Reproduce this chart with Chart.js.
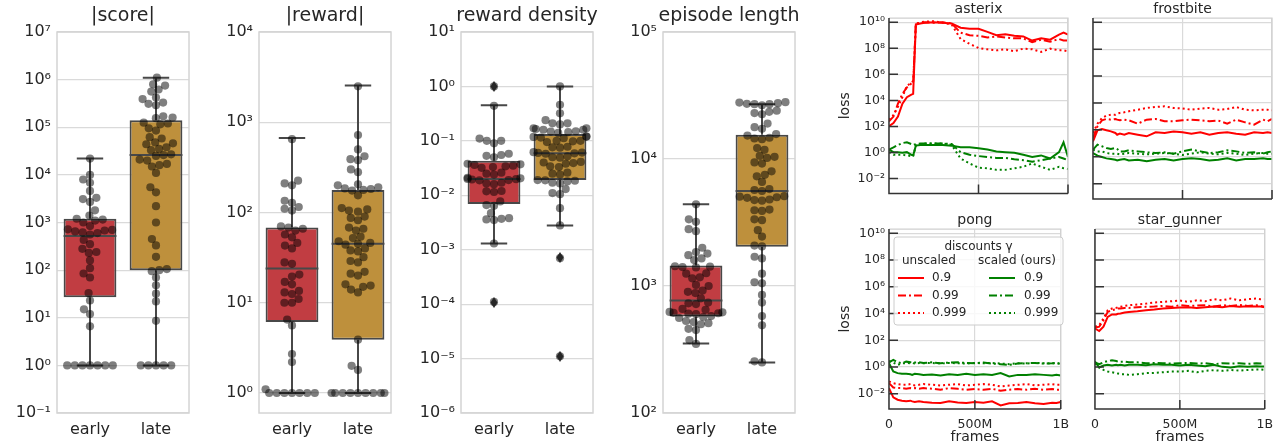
<!DOCTYPE html>
<html>
<head>
<meta charset="utf-8">
<script src="https://cdn.jsdelivr.net/npm/chart.js@4/dist/chart.umd.min.js"></script>
<style>
  body { margin: 0; background: #fff; width: 1281px; height: 444px; position: relative; overflow: hidden; }
  canvas { position: absolute; }
</style>
</head>
<body>
<canvas id="cScore" width="196" height="444" style="left:0;top:0"></canvas>
<canvas id="cReward" width="198" height="444" style="left:200px;top:0"></canvas>
<canvas id="cDensity" width="200" height="444" style="left:400px;top:0"></canvas>
<canvas id="cLength" width="210" height="444" style="left:600px;top:0"></canvas>
<canvas id="cAsterix" width="247" height="205" style="left:830px;top:0"></canvas>
<canvas id="cFrostbite" width="198" height="205" style="left:1083px;top:0"></canvas>
<canvas id="cPong" width="247" height="233" style="left:830px;top:211px"></canvas>
<canvas id="cStarGunner" width="198" height="233" style="left:1083px;top:211px"></canvas>
<script>
// ---------- box plot data (left four panels) ----------
const groups = ['early', 'late'];

const scoreEarly = [1,1,1,1,1,1,1,6.6,12,15,23,33,70,85,110,160,230,240,280,350,430,560,600,620,650,680,700,720,840,1000,1100,1150,1200,1400,1800,2700,3100,3300,4600,6800,8000,10000,22000];
const scoreLate = [1,1,1,1,1,8.6,22,32,48,70,95,100,105,190,330,450,1000,2200,4300,5500,11000,15000,16000,17000,20000,21000,25000,26000,27000,33000,35000,38000,44000,46000,48000,58000,62000,85000,95000,115000,120000,125000,155000,160000,170000,290000,310000,330000,390000,420000,560000,620000,750000,800000,1100000];
const scoreQ1 = [27, 100];
const scoreMedian = [520, 26000];
const scoreQ3 = [1200, 140000];
const scoreWhiskLo = [1, 1];
const scoreWhiskHi = [22000, 1100000];
const scoreTicks = [1e-1, 1, 1e1, 1e2, 1e3, 1e4, 1e5, 1e6, 1e7];

const rewardEarly = [1,1,1,1,1,1,1,1.1,2.2,2.7,5.6,6.5,10,10,11,12.5,13,13.5,16,17,19.5,20.5,27,28,40,43,46,53,57,63,66,68,70,105,110,115,128,135,200,210,225,650];
const rewardLate = [1,1,1,1,1,1,1,1,1,1.8,2,3.9,13,14,15,15.5,16,20,21,22,28,29,32,37,38,40,44,45,46,48,52,54,63,66,68,82,87,90,102,105,108,112,155,175,178,182,185,190,200,205,280,300,380,390,420,500,720,2500];
const rewardQ1 = [6.1, 3.9];
const rewardMedian = [24, 45];
const rewardQ3 = [68, 178];
const rewardWhiskLo = [1, 1];
const rewardWhiskHi = [670, 2550];
const rewardTicks = [1, 1e1, 1e2, 1e3, 1e4];

const densityEarly = [1.0,0.44,0.11,0.1,0.1,0.09,0.058,0.055,0.053,0.05,0.038,0.037,0.036,0.035,0.034,0.033,0.032,0.026,0.025,0.024,0.021,0.0205,0.02,0.0198,0.0195,0.019,0.0188,0.017,0.0165,0.016,0.012,0.0118,0.0115,0.0077,0.0066,0.0064,0.0047,0.0038,0.0037,0.0036,0.0035,0.0013,0.00011];
const densityLate = [1.0,0.46,0.32,0.24,0.21,0.21,0.2,0.17,0.17,0.165,0.16,0.16,0.15,0.148,0.145,0.14,0.12,0.12,0.118,0.115,0.112,0.1,0.1,0.098,0.095,0.078,0.076,0.075,0.062,0.061,0.06,0.059,0.058,0.052,0.05,0.049,0.041,0.04,0.039,0.038,0.034,0.033,0.026,0.025,0.024,0.019,0.0188,0.0185,0.018,0.017,0.0165,0.013,0.011,0.0105,0.0058,0.0028,0.0007,0.000011];
const densityQ1 = [0.0069, 0.019];
const densityMedian = [0.02, 0.059];
const densityQ3 = [0.043, 0.134];
const densityWhiskLo = [0.0013, 0.0028];
const densityWhiskHi = [0.45, 1.0];
const densityFliersEarly = [1.0, 0.000107];
const densityFliersLate = [0.00072, 0.000011];
const densityTicks = [1e-6, 1e-5, 1e-4, 1e-3, 1e-2, 1e-1, 1, 1e1];

const lengthEarly = [350,375,450,460,500,510,520,530,560,570,580,600,605,610,615,620,625,650,660,720,730,740,800,880,900,920,1000,1020,1150,1170,1250,1260,1400,1410,1420,1430,1600,1650,1750,1800,1850,2000,2700,2800,3200,3350,4400];
const lengthLate = [250,255,490,580,740,850,1050,1070,1250,1650,1700,2050,2080,2450,2750,3300,3350,3900,3950,4000,4700,4750,4800,4950,5000,5050,5100,5600,5700,5800,6600,7300,7500,8000,9200,9400,10200,10400,10600,11800,12200,14300,14500,14700,15300,15700,17300,17800,19000,22500,23000,23500,24000,26500,27000,27000,27200,27500,27800,28000];
const lengthQ1 = [575, 2040];
const lengthMedian = [770, 5600];
const lengthQ3 = [1450, 15500];
const lengthWhiskLo = [353, 250];
const lengthWhiskHi = [4400, 27000];
const lengthTicks = [1e2, 1e3, 1e4, 1e5];

// ---------- loss curves (right four panels), values are log10(loss) ----------
const framesM = [0,25,50,75,100,125,135,150,175,200,250,300,350,400,450,500,550,600,650,700,750,800,850,900,950,975,1000];
const frameTicks = [0, 5e8, 1e9];
const frameTickLabels = ['0', '500M', '1B'];
const lossTicks = [1e-2, 1, 1e2, 1e4, 1e6, 1e8, 1e10];
const discounts = ['0.9', '0.99', '0.999'];
const legendHeaders = ['unscaled', 'scaled (ours)'];

const asterixRed09 = [2.02,2.26,2.76,3.75,4.25,4.45,4.5,9.83,9.9,9.95,10.0,9.95,9.9,9.58,9.5,9.5,9.26,9.0,9.08,8.96,8.91,8.59,8.76,8.66,9.05,9.2,9.05];
const asterixRed099 = [2.39,2.76,3.75,4.5,5.0,5.3,5.36,9.9,9.95,10.0,9.95,10.0,9.9,9.2,9.0,8.96,8.83,8.9,8.83,8.76,8.76,8.46,8.66,8.51,8.71,8.6,8.59];
const asterixRed0999 = [2.51,2.88,3.5,4.25,5.12,5.36,5.49,9.83,10.0,10.05,10.07,9.95,9.83,8.71,8.34,8.02,7.92,7.84,7.92,7.77,7.97,7.92,7.72,7.97,7.84,7.84,7.77];
const asterixGreen09 = [0.23,0.03,0.03,-0.02,0.03,-0.17,-0.22,0.53,0.58,0.58,0.58,0.58,0.53,0.4,0.4,0.33,0.23,0.08,0.03,-0.02,-0.17,-0.34,-0.22,-0.46,0.03,0.78,-0.34];
const asterixGreen099 = [0.23,0.4,0.58,0.73,0.78,0.65,0.58,0.65,0.7,0.7,0.7,0.7,0.65,0.03,-0.17,-0.27,-0.34,-0.41,-0.41,-0.51,-0.59,-0.71,-0.59,-0.46,-0.34,-0.46,-0.59];
const asterixGreen0999 = [0.03,-0.17,-0.17,-0.17,-0.22,-0.27,-0.29,0.53,0.65,0.7,0.7,0.7,0.58,-0.46,-0.84,-1.16,-1.21,-1.33,-1.33,-1.21,-1.09,-0.84,-1.09,-1.33,-1.09,-1.21,-1.26];

const frostRed09 = [1.15,1.97,2.07,1.97,1.89,1.77,1.64,1.72,1.64,1.77,1.64,1.52,1.82,1.77,1.87,1.82,1.72,1.82,1.64,1.77,1.82,1.72,1.64,1.82,1.77,1.82,1.77];
const frostRed099 = [1.4,2.26,2.71,2.81,2.76,2.81,2.76,2.71,2.76,2.71,2.46,2.76,2.81,2.64,2.64,2.71,2.76,2.71,2.64,2.69,2.46,2.76,2.56,2.39,2.76,2.64,2.81];
const frostRed0999 = [1.77,2.46,2.88,3.06,3.13,3.13,3.21,3.26,3.31,3.38,3.5,3.63,3.7,3.75,3.63,3.6,3.5,3.58,3.63,3.5,3.55,3.7,3.5,3.45,3.5,3.5,3.45];
const frostGreen09 = [0.28,0.08,-0.02,-0.12,-0.17,-0.22,-0.27,-0.22,-0.17,-0.27,-0.22,-0.34,-0.22,-0.17,-0.27,-0.17,-0.12,-0.17,-0.27,-0.22,-0.12,-0.27,-0.17,-0.17,-0.12,-0.17,-0.17];
const frostGreen099 = [0.53,0.9,0.78,0.65,0.58,0.65,0.58,0.4,0.4,0.48,0.4,0.33,0.28,0.33,0.23,0.4,0.53,0.4,0.28,0.33,0.48,0.4,0.28,0.33,0.23,0.33,0.4];
const frostGreen0999 = [0.53,0.4,0.4,0.28,0.23,0.23,0.23,0.18,0.23,0.28,0.23,0.18,0.23,0.28,0.23,0.13,0.23,0.33,0.23,0.18,0.28,0.23,0.13,0.23,0.28,0.23,0.23];

const pongRed09 = [-1.58,-2.27,-2.45,-2.52,-2.57,-2.52,-2.57,-2.62,-2.57,-2.62,-2.67,-2.7,-2.57,-2.65,-2.7,-2.62,-2.67,-2.57,-2.87,-2.72,-2.7,-2.62,-2.72,-2.77,-2.67,-2.7,-2.62];
const pongRed099 = [-1.21,-1.53,-1.58,-1.58,-1.63,-1.58,-1.6,-1.58,-1.63,-1.58,-1.63,-1.7,-1.58,-1.63,-1.7,-1.65,-1.7,-1.63,-1.78,-1.7,-1.65,-1.7,-1.63,-1.7,-1.65,-1.7,-1.7];
const pongRed0999 = [-1.08,-1.21,-1.28,-1.33,-1.33,-1.28,-1.33,-1.38,-1.33,-1.28,-1.33,-1.38,-1.33,-1.28,-1.38,-1.33,-1.28,-1.33,-1.46,-1.38,-1.33,-1.28,-1.38,-1.33,-1.28,-1.33,-1.33];
const pongGreen09 = [0.28,-0.34,-0.46,-0.51,-0.51,-0.54,-0.59,-0.51,-0.54,-0.59,-0.56,-0.64,-0.54,-0.59,-0.51,-0.59,-0.54,-0.59,-0.46,-0.71,-0.59,-0.59,-0.54,-0.59,-0.64,-0.59,-0.64];
const pongGreen099 = [0.35,0.53,0.35,0.28,0.4,0.35,0.3,0.33,0.35,0.3,0.35,0.28,0.33,0.35,0.3,0.28,0.33,0.26,0.21,0.16,0.26,0.28,0.3,0.26,0.28,0.3,0.21];
const pongGreen0999 = [0.45,0.33,0.16,0.26,0.3,0.28,0.3,0.26,0.3,0.28,0.3,0.26,0.3,0.28,0.26,0.3,0.28,0.3,0.26,0.21,0.28,0.26,0.3,0.28,0.26,0.28,0.26];

const sgRed09 = [2.88,2.69,3.01,3.75,3.93,3.93,3.98,4.0,4.07,4.12,4.17,4.25,4.3,4.37,4.42,4.45,4.47,4.42,4.47,4.52,4.47,4.57,4.5,4.55,4.52,4.52,4.47];
const sgRed099 = [2.93,3.01,3.5,4.12,4.25,4.32,4.37,4.37,4.42,4.42,4.47,4.5,4.52,4.57,4.5,4.62,4.57,4.59,4.62,4.52,4.62,4.57,4.64,4.57,4.62,4.57,4.5];
const sgRed0999 = [3.01,3.13,3.63,4.25,4.37,4.42,4.47,4.5,4.57,4.62,4.67,4.74,4.82,4.87,4.92,4.97,4.87,4.99,4.92,5.07,4.99,5.12,4.99,5.07,5.12,5.07,5.07];
const sgGreen09 = [0.4,-0.04,0.11,0.16,0.11,0.16,0.13,0.16,0.11,0.16,0.16,0.13,0.21,0.16,0.16,0.11,0.16,0.11,0.06,0.16,0.01,-0.04,0.06,0.01,0.06,0.03,0.03];
const sgGreen099 = [0.35,0.21,0.35,0.45,0.5,0.45,0.4,0.4,0.4,0.35,0.35,0.28,0.3,0.28,0.26,0.28,0.3,0.26,0.28,0.21,0.28,0.26,0.28,0.23,0.28,0.26,0.28];
const sgGreen0999 = [0.28,-0.04,-0.22,-0.34,-0.39,-0.46,-0.49,-0.54,-0.54,-0.59,-0.54,-0.46,-0.44,-0.39,-0.34,-0.34,-0.29,-0.39,-0.29,-0.24,-0.29,-0.22,-0.27,-0.22,-0.19,-0.19,-0.22];

// ---------- styling ----------
const FONT = "'DejaVu Sans', sans-serif";
const TEXT = '#262626';
const GRID = '#dadada';
const BOX_COLORS = ['rgb(193,61,66)', 'rgb(190,144,60)'];
const BOX_EDGE = '#484848';
const RED = '#ff0000';
const GREEN = '#008000';
const DASHES = [[], [8, 3, 2, 3], [2, 3]];

Chart.defaults.font.family = FONT;
Chart.defaults.color = TEXT;
Chart.defaults.animation = false;

// 10^n with unicode superscripts
function sup(v) {
  const e = Math.round(Math.log10(v));
  const map = { '-': '⁻', '0': '⁰', '1': '¹', '2': '²', '3': '³', '4': '⁴', '5': '⁵', '6': '⁶', '7': '⁷', '8': '⁸', '9': '⁹' };
  return '10' + String(e).split('').map(c => map[c]).join('');
}

// title drawn centred over the plot area (Chart.js title squeezes long text)
function titlePlugin(text, size, y) {
  return {
    id: 'panelTitle',
    afterDraw(chart) {
      const { ctx, chartArea: a } = chart;
      ctx.save();
      ctx.font = size + 'px ' + FONT;
      ctx.fillStyle = TEXT;
      ctx.textAlign = 'center';
      ctx.textBaseline = 'middle';
      ctx.fillText(text, (a.left + a.right) / 2, y);
      ctx.restore();
    }
  };
}

// light grey frame round the box plots
const boxFrame = {
  id: 'boxFrame',
  afterDatasetsDraw(chart) {
    const { ctx, chartArea: a } = chart;
    ctx.save();
    ctx.strokeStyle = '#d4d4d4';
    ctx.lineWidth = 1.5;
    ctx.strokeRect(a.left, a.top, a.right - a.left, a.bottom - a.top);
    ctx.restore();
  }
};

// spines + inward tick marks for the loss panels
const lossFrame = {
  id: 'lossFrame',
  afterDatasetsDraw(chart) {
    const { ctx, chartArea: a, scales: { x, y } } = chart;
    ctx.save();
    ctx.lineWidth = 1.25;
    ctx.strokeStyle = '#d0d0d0';
    ctx.beginPath();
    ctx.moveTo(a.left, a.top); ctx.lineTo(a.right, a.top); ctx.lineTo(a.right, a.bottom);
    ctx.stroke();
    ctx.strokeStyle = '#333333';
    ctx.lineWidth = 1.5;
    ctx.beginPath();
    ctx.moveTo(a.left, a.top); ctx.lineTo(a.left, a.bottom); ctx.lineTo(a.right, a.bottom);
    y.ticks.forEach(t => {
      const py = y.getPixelForValue(t.value);
      ctx.moveTo(a.left, py); ctx.lineTo(a.left + 9, py);
    });
    x.ticks.forEach(t => {
      const px = x.getPixelForValue(t.value);
      ctx.moveTo(px, a.bottom); ctx.lineTo(px, a.bottom - 9);
    });
    ctx.stroke();
    ctx.restore();
  }
};

const gammaLegend = {
  id: 'gammaLegend',
  afterDraw(chart) {
    const { ctx, chartArea: a } = chart;
    const bx = a.left + 5, by = a.top + 8, bw = 169, bh = 88;
    ctx.save();
    ctx.beginPath();
    ctx.roundRect(bx, by, bw, bh, 3);
    ctx.fillStyle = 'rgba(255,255,255,0.8)';
    ctx.fill();
    ctx.strokeStyle = '#cccccc';
    ctx.lineWidth = 1;
    ctx.stroke();
    ctx.font = '12px ' + FONT;
    ctx.fillStyle = TEXT;
    ctx.textBaseline = 'middle';
    ctx.textAlign = 'center';
    ctx.fillText('discounts γ', bx + bw / 2, by + 10);
    ctx.textAlign = 'left';
    ctx.fillText(legendHeaders[0], bx + 8, by + 24);
    ctx.fillText(legendHeaders[1], bx + 84, by + 24);
    discounts.forEach((d, i) => {
      const yy = by + 41 + i * 17.5;
      [[RED, 4, 38], [GREEN, 95, 130]].forEach(([col, sx, tx]) => {
        ctx.strokeStyle = col;
        ctx.lineWidth = 2;
        ctx.setLineDash(DASHES[i]);
        ctx.beginPath();
        ctx.moveTo(bx + sx, yy);
        ctx.lineTo(bx + sx + 26, yy);
        ctx.stroke();
        ctx.setLineDash([]);
        ctx.fillText(d, bx + tx, yy);
      });
    });
    ctx.restore();
  }
};

// thin diamond used for outliers
function diamondImage() {
  const c = document.createElement('canvas');
  c.width = 8; c.height = 11;
  const g = c.getContext('2d');
  g.fillStyle = '#262626';
  g.beginPath();
  g.moveTo(4, 0); g.lineTo(7.5, 5.5); g.lineTo(4, 11); g.lineTo(0.5, 5.5);
  g.closePath();
  g.fill();
  return c;
}

// seaborn-like swarm: place each point as close to the centre as possible without overlap
function swarmOffsets(ys, d, limit) {
  const order = ys.map((_, i) => i).sort((a, b) => ys[b] - ys[a]);
  const placed = [];
  const out = new Array(ys.length).fill(0);
  order.forEach(i => {
    const y = ys[i];
    const near = placed.filter(p => Math.abs(p.y - y) < d);
    const cands = [0];
    near.forEach(p => {
      const dx = Math.sqrt(d * d - (p.y - y) ** 2);
      cands.push(p.x - dx, p.x + dx);
    });
    cands.sort((a, b) => Math.abs(a) - Math.abs(b));
    const x = cands.find(c => near.every(p => (p.x - c) ** 2 + (p.y - y) ** 2 >= d * d - 1e-6));
    placed.push({ x: x, y: y });
    out[i] = Math.max(-limit, Math.min(limit, x));
  });
  return out;
}

function boxChart(id, o) {
  const whiskers = [];
  [0, 1].forEach(c => {
    whiskers.push(
      { x: c, y: o.lo[c] }, { x: c, y: o.q1[c] }, { x: c, y: null },
      { x: c, y: o.q3[c] }, { x: c, y: o.hi[c] }, { x: c, y: null },
      { x: c - 0.2, y: o.lo[c] }, { x: c + 0.2, y: o.lo[c] }, { x: c, y: null },
      { x: c - 0.2, y: o.hi[c] }, { x: c + 0.2, y: o.hi[c] }, { x: c, y: null },
      { x: c - 0.4, y: o.med[c] }, { x: c + 0.4, y: o.med[c] }, { x: c, y: null }
    );
  });
  const datasets = [
    {
      type: 'bar',
      data: [0, 1].map(c => ({ x: c, y: [o.q1[c], o.q3[c]] })),
      backgroundColor: BOX_COLORS,
      borderColor: BOX_EDGE,
      borderWidth: 2,
      borderSkipped: false,
      barPercentage: 1,
      categoryPercentage: 0.8,
      order: 4
    },
    {
      type: 'line',
      data: whiskers,
      borderColor: BOX_EDGE,
      borderWidth: 2,
      pointRadius: 0,
      spanGaps: false,
      order: 3
    },
    {
      type: 'scatter',
      data: o.early.map(v => ({ x: 0, y: v })),
      backgroundColor: 'rgba(0,0,0,0.5)',
      borderWidth: 0,
      pointRadius: 4.1,
      order: 2
    },
    {
      type: 'scatter',
      data: o.late.map(v => ({ x: 1, y: v })),
      backgroundColor: 'rgba(0,0,0,0.5)',
      borderWidth: 0,
      pointRadius: 4.1,
      order: 2
    }
  ];
  if (o.fliers) {
    const img = diamondImage();
    datasets.push({
      type: 'scatter',
      data: o.fliers[0].map(v => ({ x: 0, y: v })).concat(o.fliers[1].map(v => ({ x: 1, y: v }))),
      pointStyle: img,
      pointRadius: 5,
      order: 1
    });
  }

  const chart = new Chart(document.getElementById(id), {
    type: 'bar',
    data: { datasets: datasets },
    options: {
      responsive: false,
      events: [],
      layout: { padding: { top: 32, right: o.padRight, left: 0, bottom: 0 } },
      plugins: { legend: { display: false }, tooltip: { enabled: false } },
      scales: {
        x: {
          type: 'linear',
          min: -0.5,
          max: 1.5,
          offset: false,
          afterBuildTicks: s => { s.ticks = [0, 1].map(v => ({ value: v })); },
          afterFit: s => { s.height = 31; },
          ticks: {
            callback: v => groups[Math.round(v)],
            font: { size: 16 },
            color: TEXT,
            padding: 7,
            maxRotation: 0,
            autoSkip: false
          },
          grid: { display: false, drawTicks: false },
          border: { display: false }
        },
        y: {
          type: 'logarithmic',
          min: o.min,
          max: o.max,
          afterBuildTicks: s => { s.ticks = o.ticks.map(v => ({ value: v })); },
          afterFit: s => { s.width = o.axisWidth; },
          ticks: { callback: v => sup(v), font: { size: 16 }, color: TEXT, padding: 6, autoSkip: false },
          grid: { color: GRID, lineWidth: 1.2, drawTicks: false },
          border: { display: false }
        }
      }
    },
    plugins: [boxFrame, titlePlugin(o.title, 19, 16)]
  });

  // spread the swarm points using the chart's own scales
  const xs = chart.scales.x, ysc = chart.scales.y;
  const unit = xs.getPixelForValue(1) - xs.getPixelForValue(0);
  [2, 3].forEach((di, c) => {
    const ds = chart.data.datasets[di];
    const pys = ds.data.map(p => ysc.getPixelForValue(p.y));
    const offs = swarmOffsets(pys, 7.6, 0.4 * unit);
    ds.data = ds.data.map((p, i) => ({ x: c + offs[i] / unit, y: p.y }));
  });
  chart.update('none');
  return chart;
}

boxChart('cScore', {
  title: '|score|', early: scoreEarly, late: scoreLate,
  q1: scoreQ1, med: scoreMedian, q3: scoreQ3, lo: scoreWhiskLo, hi: scoreWhiskHi,
  min: 1e-1, max: 1e7, ticks: scoreTicks, axisWidth: 57, padRight: 7
});
boxChart('cReward', {
  title: '|reward|', early: rewardEarly, late: rewardLate,
  q1: rewardQ1, med: rewardMedian, q3: rewardQ3, lo: rewardWhiskLo, hi: rewardWhiskHi,
  min: 0.63, max: 1e4, ticks: rewardTicks, axisWidth: 59, padRight: 7
});
boxChart('cDensity', {
  title: 'reward density', early: densityEarly, late: densityLate,
  q1: densityQ1, med: densityMedian, q3: densityQ3, lo: densityWhiskLo, hi: densityWhiskHi,
  fliers: [densityFliersEarly, densityFliersLate],
  min: 1e-6, max: 1e1, ticks: densityTicks, axisWidth: 61, padRight: 7
});
boxChart('cLength', {
  title: 'episode length', early: lengthEarly, late: lengthLate,
  q1: lengthQ1, med: lengthMedian, q3: lengthQ3, lo: lengthWhiskLo, hi: lengthWhiskHi,
  min: 1e2, max: 1e5, ticks: lengthTicks, axisWidth: 63, padRight: 15
});

function lossChart(id, o) {
  const series = [
    [o.red[0], RED, 0], [o.red[1], RED, 1], [o.red[2], RED, 2],
    [o.green[0], GREEN, 0], [o.green[1], GREEN, 1], [o.green[2], GREEN, 2]
  ];
  const datasets = series.map(([vals, col, k]) => ({
    data: framesM.map((m, i) => ({ x: m * 1e6, y: Math.pow(10, vals[i]) })),
    borderColor: col,
    borderWidth: 2,
    borderDash: DASHES[k],
    pointRadius: 0,
    fill: false
  }));
  const plugins = [lossFrame, titlePlugin(o.title, 14, 9)];
  if (o.legend) plugins.push(gammaLegend);
  return new Chart(document.getElementById(id), {
    type: 'line',
    data: { datasets: datasets },
    options: {
      responsive: false,
      events: [],
      layout: { padding: { top: 18, right: 9, left: 0, bottom: 0 } },
      plugins: { legend: { display: false }, tooltip: { enabled: false } },
      scales: {
        x: {
          type: 'linear',
          min: 0,
          max: 1e9,
          afterBuildTicks: s => { s.ticks = frameTicks.map(v => ({ value: v })); },
          afterFit: s => { s.height = o.bottom ? 35 : 6; },
          ticks: {
            display: o.bottom,
            callback: (v, i) => frameTickLabels[i],
            font: { size: 12.5 },
            color: TEXT,
            padding: 8,
            maxRotation: 0,
            autoSkip: false
          },
          title: { display: o.bottom, text: 'frames', font: { size: 14 }, color: TEXT, padding: { top: 0, bottom: -2 } },
          grid: { color: GRID, lineWidth: 1.2, drawTicks: false },
          border: { display: false }
        },
        y: {
          type: 'logarithmic',
          min: 7.2e-4,
          max: 2.1e10,
          afterBuildTicks: s => { s.ticks = lossTicks.map(v => ({ value: v })); },
          afterFit: s => { s.width = o.left ? 59 : 10; },
          ticks: { display: o.left, callback: v => sup(v), font: { size: 12.5 }, color: TEXT, padding: 4, autoSkip: false },
          title: { display: o.left, text: 'loss', font: { size: 14 }, color: TEXT, padding: { top: 6.6, bottom: 0 } },
          grid: { color: GRID, lineWidth: 1.2, drawTicks: false },
          border: { display: false }
        }
      }
    },
    plugins: plugins
  });
}

lossChart('cAsterix', {
  title: 'asterix', left: true, bottom: false,
  red: [asterixRed09, asterixRed099, asterixRed0999],
  green: [asterixGreen09, asterixGreen099, asterixGreen0999]
});
lossChart('cFrostbite', {
  title: 'frostbite', left: false, bottom: false,
  red: [frostRed09, frostRed099, frostRed0999],
  green: [frostGreen09, frostGreen099, frostGreen0999]
});
lossChart('cPong', {
  title: 'pong', left: true, bottom: true, legend: true,
  red: [pongRed09, pongRed099, pongRed0999],
  green: [pongGreen09, pongGreen099, pongGreen0999]
});
lossChart('cStarGunner', {
  title: 'star_gunner', left: false, bottom: true,
  red: [sgRed09, sgRed099, sgRed0999],
  green: [sgGreen09, sgGreen099, sgGreen0999]
});
</script>
</body>
</html>
